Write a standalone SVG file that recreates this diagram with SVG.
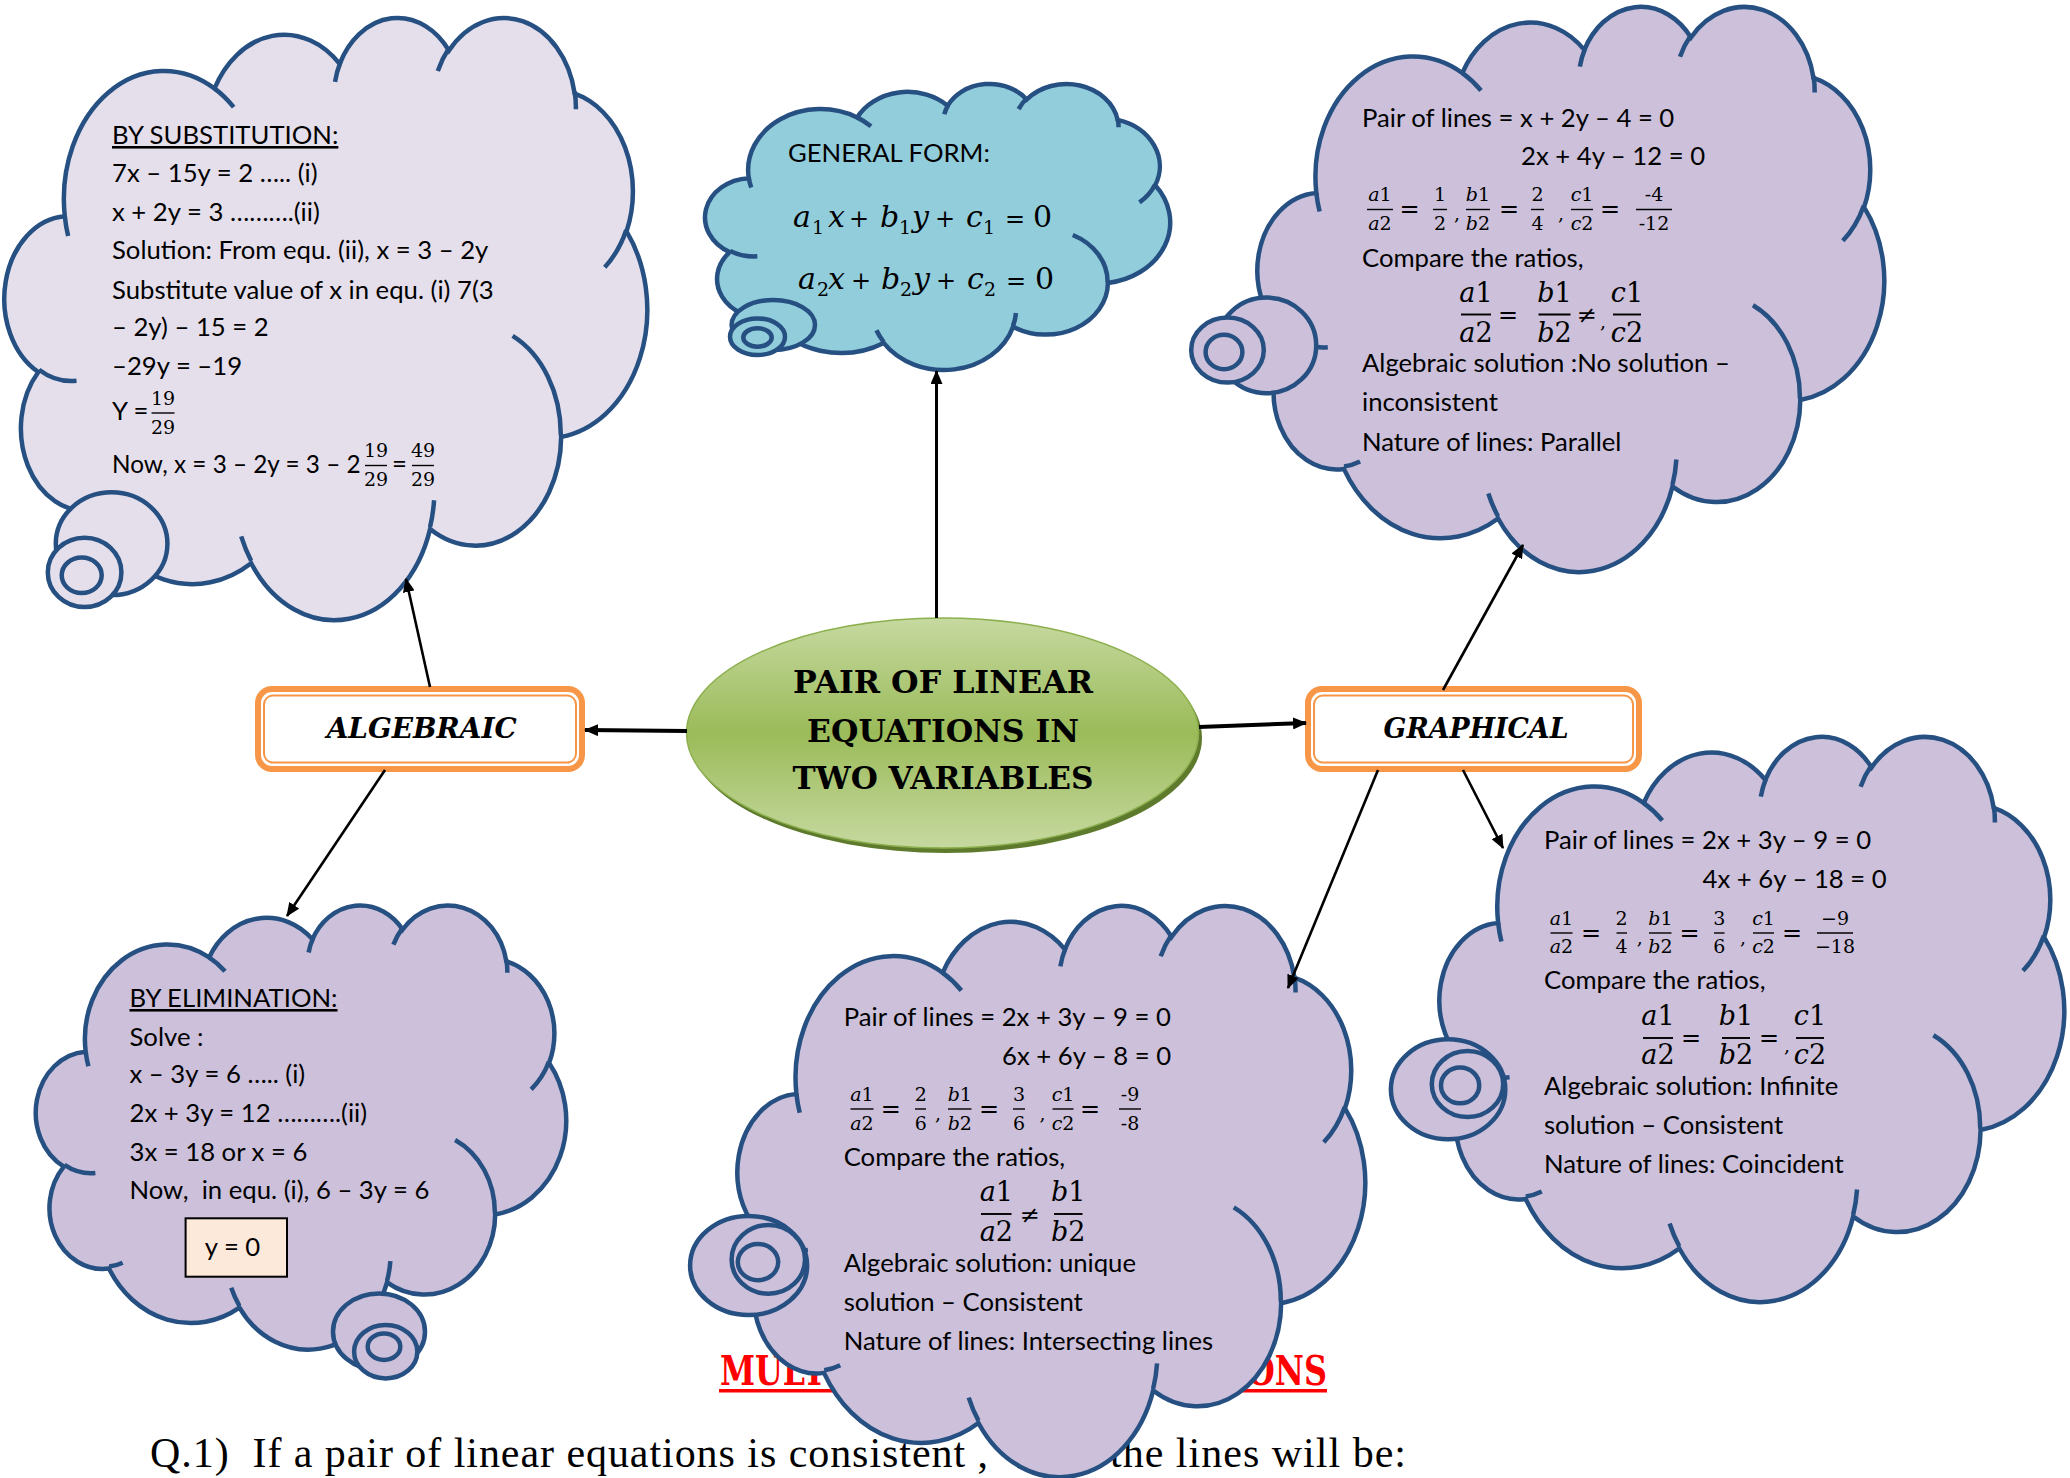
<svg xmlns="http://www.w3.org/2000/svg" xmlns:xlink="http://www.w3.org/1999/xlink" width="2070" height="1478" viewBox="0 0 2070 1478">
<style>
.cl{fill:#CCC0DA;stroke:#264F82;stroke-width:4.5}
.cl1{fill:#E5DFEC}
.clb{fill:#92CDDC}
.ia{fill:none;stroke:#264F82;stroke-width:4.5}
.bub{fill:#CCC0DA;stroke:#264F82;stroke-width:4.5}
.tx{font-family:Lato,"Open Sans",sans-serif;font-size:25.7px;fill:#000}
.mf{font-family:"DejaVu Serif",serif;font-size:19px;text-anchor:middle;fill:#000}
.mb{font-family:"DejaVu Serif",serif;font-size:27px;text-anchor:middle;fill:#000}
.op{font-family:"DejaVu Serif",serif;font-size:24px;text-anchor:middle;fill:#000}
.mg{font-family:"DejaVu Serif",serif;font-size:30px;fill:#000}
.sb{font-size:19px}
.so{font-size:24px}
.i{font-style:italic}
.fb{stroke:#000;stroke-width:1.4}
.fbb{stroke:#000;stroke-width:1.9}
.ob{fill:#fff;stroke:#F79646;stroke-width:6}
.oi{fill:none;stroke:#F79646;stroke-width:2}
.hd{font-family:"DejaVu Serif",serif;font-weight:bold;font-style:italic;font-size:28px;text-anchor:middle;fill:#000}
.ct{font-family:"DejaVu Serif",serif;font-weight:bold;font-size:32px;text-anchor:middle;fill:#000}
.cn{stroke:#000;fill:none}
</style>
<defs>
<path id="cb" vector-effect="non-scaling-stroke" d="M3900 14370 A6753 9190 0 0 1 14005 5202 A5333 7267 0 0 1 22457 3431 A4365 5945 0 0 1 29834 2479 A4857 6595 0 0 1 38319 5575 A5333 7273 0 0 1 41819 15459 A6775 9220 0 0 1 37406 30202 A5785 7867 0 0 1 28558 36813 A6752 9215 0 0 1 16483 39266 A7720 10543 0 0 1 5806 35472 A4360 5918 0 0 1 2115 25550 A4345 5945 0 0 1 3900 14370 Z"/>
<path id="ca" vector-effect="non-scaling-stroke" d="M4693 26177 A4345 5945 0 0 1 2160 25380 M6928 34899 A4360 5918 0 0 1 5819 35280 M16478 39090 A6752 9215 0 0 1 15809 37348 M28827 34751 A6752 9215 0 0 1 28561 36659 M34129 22954 A5785 7867 0 0 1 37380 30089 M41798 15354 A5333 7273 0 0 1 40349 18031 M38324 5426 A4857 6595 0 0 1 38400 6690 M29078 3952 A4857 6595 0 0 1 29820 2339 M22141 4720 A4365 5945 0 0 1 22500 3330 M14000 5192 A6753 9190 0 0 1 15301 6542 M4127 15789 A6753 9190 0 0 1 3900 14370"/>
<linearGradient id="gg" x1="0" y1="0" x2="0" y2="1">
<stop offset="0" stop-color="#C6D9A0"/>
<stop offset="0.5" stop-color="#9BBB59"/>
<stop offset="1" stop-color="#C6D9A0"/>
</linearGradient>
<marker id="ah" viewBox="0 0 14 12" refX="13" refY="6" markerWidth="14" markerHeight="12" markerUnits="userSpaceOnUse" orient="auto">
<path d="M0 0 L14 6 L0 12 Z" fill="#000"/>
</marker>
</defs>

<g id="background-text">
<text x="720" y="1385" font-family="DejaVu Serif,serif" font-weight="bold" font-size="41" fill="#FF0000" textLength="106" lengthAdjust="spacingAndGlyphs">MULT</text>
<text x="1247" y="1385" font-family="DejaVu Serif,serif" font-weight="bold" font-size="41" fill="#FF0000" textLength="80" lengthAdjust="spacingAndGlyphs">ONS</text>
<rect x="719" y="1389" width="608" height="3.5" fill="#FF0000"/>
<text x="150" y="1467" font-family="Liberation Serif,serif" font-size="42" fill="#000" textLength="838">Q.1)&#160; If a pair of linear equations is consistent ,</text>
<text x="1110" y="1467" font-family="Liberation Serif,serif" font-size="42" fill="#000" textLength="296">the lines will be:</text>
</g>

<g id="node-center">
<ellipse cx="946" cy="738" rx="256" ry="115" fill="#5E7A2C"/>
<ellipse cx="942.5" cy="733" rx="256" ry="115" fill="url(#gg)" stroke="#8DB04F" stroke-width="1.5"/>
<text class="ct" x="943" y="693" textLength="300" lengthAdjust="spacingAndGlyphs">PAIR OF LINEAR</text>
<text class="ct" x="943" y="742" textLength="272" lengthAdjust="spacingAndGlyphs">EQUATIONS IN</text>
<text class="ct" x="943" y="789" textLength="301" lengthAdjust="spacingAndGlyphs">TWO VARIABLES</text>
</g>

<g id="node-algebraic">
<rect class="ob" x="258" y="689" width="324" height="80" rx="14"/>
<rect class="oi" x="264" y="695.5" width="312" height="67" rx="9"/>
<text class="hd" x="421.7" y="738" textLength="190" lengthAdjust="spacingAndGlyphs">ALGEBRAIC</text>
</g>

<g id="node-graphical">
<rect class="ob" x="1308" y="689" width="331" height="80" rx="14"/>
<rect class="oi" x="1314" y="695.5" width="319" height="67" rx="9"/>
<text class="hd" x="1476" y="738" textLength="185" lengthAdjust="spacingAndGlyphs">GRAPHICAL</text>
</g>

<g id="node-substitution">
<use href="#cb" class="cl cl1" transform="translate(7 16) scale(0.0148148 0.0139352)"/>
<use href="#ca" class="ia" transform="translate(7 16) scale(0.0148148 0.0139352)"/>
<ellipse class="bub" style="fill:#E5DFEC" cx="111.6" cy="543.7" rx="55.8" ry="51.4"/>
<ellipse class="bub" style="fill:#E5DFEC" cx="84.6" cy="572.4" rx="36.8" ry="34.6"/>
<ellipse class="bub" style="fill:#E5DFEC" cx="81.7" cy="575.3" rx="20" ry="17.8"/>
<text class="tx" x="112" y="144" text-decoration="underline">BY SUBSTITUTION:</text>
<text class="tx" x="112" y="182">7x – 15y = 2 ….. (i)</text>
<text class="tx" x="112" y="221">x + 2y = 3 ……….(ii)</text>
<text class="tx" x="112" y="259">Solution: From equ. (ii), x = 3 – 2y</text>
<text class="tx" x="112" y="298.5">Substitute value of x in equ. (i) 7(3</text>
<text class="tx" x="112" y="336">– 2y) – 15 = 2</text>
<text class="tx" x="112" y="375">–29y = –19</text>
<text class="tx" x="112" y="420">Y =</text>
<text class="mf" x="163" y="405">19</text>
<line class="fb" x1="151.5" y1="413" x2="174.5" y2="413"/>
<text class="mf" x="163" y="434">29</text>
<text class="tx" x="112" y="472.5" style="font-size:24.3px">Now, x = 3 – 2y = 3 – 2</text>
<text class="mf" x="376" y="456.5">19</text>
<line class="fb" x1="365" y1="465.5" x2="387" y2="465.5"/>
<text class="mf" x="376" y="486">29</text>
<text class="tx" x="392" y="472.5">=</text>
<text class="mf" x="423" y="456.5">49</text>
<line class="fb" x1="412" y1="465.5" x2="434" y2="465.5"/>
<text class="mf" x="423" y="486">29</text>
</g>

<g id="node-general-form">
<use href="#cb" class="cl clb" transform="translate(707 83) scale(0.0107176 0.0066204)"/>
<use href="#ca" class="ia" transform="translate(707 83) scale(0.0107176 0.0066204)"/>
<ellipse class="bub" style="fill:#92CDDC" cx="773.3" cy="325" rx="41.7" ry="25"/>
<ellipse class="bub" style="fill:#92CDDC" cx="757.5" cy="336.7" rx="27.5" ry="18.3"/>
<ellipse class="bub" style="fill:#92CDDC" cx="757.5" cy="337.5" rx="14.2" ry="9.2"/>
<text class="tx" x="788" y="162">GENERAL FORM:</text>
<text class="mg" y="227"><tspan class="i" x="793">a</tspan><tspan class="sb" x="812" dy="7">1</tspan><tspan class="i" x="828" dy="-7">x</tspan><tspan class="so" x="849">+</tspan><tspan class="i" x="880">b</tspan><tspan class="sb" x="899" dy="7">1</tspan><tspan class="i" x="912" dy="-7">y</tspan><tspan class="so" x="935">+</tspan><tspan class="i" x="966">c</tspan><tspan class="sb" x="983" dy="7">1</tspan><tspan class="so" x="1005" dy="-7">=</tspan><tspan x="1033">0</tspan></text>
<text class="mg" y="289"><tspan class="i" x="798">a</tspan><tspan class="sb" x="817" dy="7">2</tspan><tspan class="i" x="828" dy="-7">x</tspan><tspan class="so" x="851">+</tspan><tspan class="i" x="881">b</tspan><tspan class="sb" x="900" dy="7">2</tspan><tspan class="i" x="913" dy="-7">y</tspan><tspan class="so" x="936">+</tspan><tspan class="i" x="967">c</tspan><tspan class="sb" x="984" dy="7">2</tspan><tspan class="so" x="1006" dy="-7">=</tspan><tspan x="1035">0</tspan></text>
</g>

<g id="node-parallel">
<use href="#cb" class="cl" transform="translate(1260 5) scale(0.0144444 0.0130787)"/>
<use href="#ca" class="ia" transform="translate(1260 5) scale(0.0144444 0.0130787)"/>
<ellipse class="bub" cx="1266.5" cy="345.4" rx="49.7" ry="47.8"/>
<ellipse class="bub" cx="1227.5" cy="350.1" rx="36.3" ry="32.5"/>
<ellipse class="bub" cx="1224" cy="352" rx="18.4" ry="17.2"/>
<text class="tx" x="1362" y="127">Pair of lines = x + 2y – 4 = 0</text>
<text class="tx" x="1521" y="165">2x + 4y – 12 = 0</text>
<text class="mf" x="1380" y="201"><tspan class="i">a</tspan>1</text><line class="fb" x1="1367" y1="209.5" x2="1393" y2="209.5"/><text class="mf" x="1380" y="230"><tspan class="i">a</tspan>2</text>
<text class="op" x="1409.5" y="217">=</text>
<text class="mf" x="1440" y="201">1</text><line class="fb" x1="1433" y1="209.5" x2="1447" y2="209.5"/><text class="mf" x="1440" y="230">2</text>
<text class="mf" x="1457" y="220">,</text>
<text class="mf" x="1478" y="201"><tspan class="i">b</tspan>1</text><line class="fb" x1="1466" y1="209.5" x2="1490" y2="209.5"/><text class="mf" x="1478" y="230"><tspan class="i">b</tspan>2</text>
<text class="op" x="1509" y="217">=</text>
<text class="mf" x="1537.5" y="201">2</text><line class="fb" x1="1531" y1="209.5" x2="1544" y2="209.5"/><text class="mf" x="1537.5" y="230">4</text>
<text class="mf" x="1561" y="220">,</text>
<text class="mf" x="1582" y="201"><tspan class="i">c</tspan>1</text><line class="fb" x1="1571" y1="209.5" x2="1593" y2="209.5"/><text class="mf" x="1582" y="230"><tspan class="i">c</tspan>2</text>
<text class="op" x="1610" y="217">=</text>
<text class="mf" x="1654" y="201">-4</text><line class="fb" x1="1636" y1="209.5" x2="1672" y2="209.5"/><text class="mf" x="1654" y="230">-12</text>
<text class="tx" x="1362" y="267">Compare the ratios,</text>
<text class="mb" x="1476" y="302"><tspan class="i">a</tspan>1</text><line class="fbb" x1="1461" y1="314.5" x2="1491" y2="314.5"/><text class="mb" x="1476" y="342"><tspan class="i">a</tspan>2</text>
<text class="op" x="1508" y="323">=</text>
<text class="mb" x="1554.5" y="302"><tspan class="i">b</tspan>1</text><line class="fbb" x1="1538.5" y1="314.5" x2="1570.5" y2="314.5"/><text class="mb" x="1554.5" y="342"><tspan class="i">b</tspan>2</text>
<text class="op" x="1586.5" y="323">≠</text>
<text class="mf" x="1603" y="328">,</text>
<text class="mb" x="1627" y="302"><tspan class="i">c</tspan>1</text><line class="fbb" x1="1613" y1="314.5" x2="1641" y2="314.5"/><text class="mb" x="1627" y="342"><tspan class="i">c</tspan>2</text>
<text class="tx" x="1362" y="372">Algebraic solution :No solution –</text>
<text class="tx" x="1362" y="411">inconsistent</text>
<text class="tx" x="1362" y="451">Nature of lines: Parallel</text>
</g>

<g id="node-elimination">
<use href="#cb" class="cl" transform="translate(38 904) scale(0.0122222 0.0102778)"/>
<use href="#ca" class="ia" transform="translate(38 904) scale(0.0122222 0.0102778)"/>
<ellipse class="bub" cx="379" cy="1331.7" rx="46" ry="38.3"/>
<ellipse class="bub" cx="385.7" cy="1351.7" rx="31.6" ry="26.7"/>
<ellipse class="bub" cx="384" cy="1346.7" rx="16.3" ry="13.3"/>
<text class="tx" x="129.5" y="1007" text-decoration="underline">BY ELIMINATION:</text>
<text class="tx" x="129.5" y="1045.7">Solve :</text>
<text class="tx" x="129.5" y="1083.3">x – 3y = 6 ….. (i)</text>
<text class="tx" x="129.5" y="1121.7">2x + 3y = 12 ……….(ii)</text>
<text class="tx" x="129.5" y="1160.7">3x = 18 or x = 6</text>
<text class="tx" x="129.5" y="1199.3">Now,&#160; in equ. (i), 6 – 3y = 6</text>
<rect x="185.6" y="1218.3" width="101.4" height="58.4" fill="#FDE9D9" stroke="#000" stroke-width="2"/>
<text class="tx" x="204.7" y="1256">y = 0</text>
</g>

<g id="node-intersecting">
<use href="#cb" class="cl" transform="translate(740 904) scale(0.0144676 0.0132176)"/>
<use href="#ca" class="ia" transform="translate(740 904) scale(0.0144676 0.0132176)"/>
<ellipse class="bub" cx="748.6" cy="1265.5" rx="58.5" ry="49.6"/>
<ellipse class="bub" cx="768.3" cy="1259.4" rx="36.7" ry="34.3"/>
<ellipse class="bub" cx="758" cy="1262.1" rx="20.2" ry="18.1"/>
<text class="tx" x="843.7" y="1026">Pair of lines = 2x + 3y – 9 = 0</text>
<text class="tx" x="1002" y="1065">6x + 6y – 8 = 0</text>
<text class="mf" x="862" y="1100.5"><tspan class="i">a</tspan>1</text><line class="fb" x1="850.5" y1="1109" x2="873.5" y2="1109"/><text class="mf" x="862" y="1130"><tspan class="i">a</tspan>2</text>
<text class="op" x="890.7" y="1116.5">=</text>
<text class="mf" x="920.7" y="1100.5">2</text><line class="fb" x1="915" y1="1109" x2="926" y2="1109"/><text class="mf" x="920.7" y="1130">6</text>
<text class="mf" x="938" y="1119.5">,</text>
<text class="mf" x="959.8" y="1100.5"><tspan class="i">b</tspan>1</text><line class="fb" x1="948" y1="1109" x2="971.5" y2="1109"/><text class="mf" x="959.8" y="1130"><tspan class="i">b</tspan>2</text>
<text class="op" x="989" y="1116.5">=</text>
<text class="mf" x="1019" y="1100.5">3</text><line class="fb" x1="1013" y1="1109" x2="1025" y2="1109"/><text class="mf" x="1019" y="1130">6</text>
<text class="mf" x="1042.5" y="1119.5">,</text>
<text class="mf" x="1063" y="1100.5"><tspan class="i">c</tspan>1</text><line class="fb" x1="1052.5" y1="1109" x2="1073.5" y2="1109"/><text class="mf" x="1063" y="1130"><tspan class="i">c</tspan>2</text>
<text class="op" x="1090" y="1116.5">=</text>
<text class="mf" x="1130" y="1100.5">-9</text><line class="fb" x1="1119" y1="1109" x2="1141" y2="1109"/><text class="mf" x="1130" y="1130">-8</text>
<text class="tx" x="843.7" y="1166">Compare the ratios,</text>
<text class="mb" x="996.3" y="1200.5"><tspan class="i">a</tspan>1</text><line class="fbb" x1="981" y1="1214" x2="1011.5" y2="1214"/><text class="mb" x="996.3" y="1240.5"><tspan class="i">a</tspan>2</text>
<text class="op" x="1029.6" y="1222.5">≠</text>
<text class="mb" x="1068.2" y="1200.5"><tspan class="i">b</tspan>1</text><line class="fbb" x1="1054" y1="1214" x2="1082.5" y2="1214"/><text class="mb" x="1068.2" y="1240.5"><tspan class="i">b</tspan>2</text>
<text class="tx" x="843.7" y="1272">Algebraic solution: unique</text>
<text class="tx" x="843.7" y="1311">solution – Consistent</text>
<text class="tx" x="843.7" y="1350.3">Nature of lines: Intersecting lines</text>
</g>

<g id="node-coincident">
<use href="#cb" class="cl" transform="translate(1442 735) scale(0.0143981 0.0130787)"/>
<use href="#ca" class="ia" transform="translate(1442 735) scale(0.0143981 0.0130787)"/>
<ellipse class="bub" cx="1448.1" cy="1089.3" rx="57.2" ry="50"/>
<ellipse class="bub" cx="1467.5" cy="1084.1" rx="35.7" ry="33"/>
<ellipse class="bub" cx="1460.1" cy="1085.4" rx="19.1" ry="17.9"/>
<text class="tx" x="1544" y="849">Pair of lines = 2x + 3y – 9 = 0</text>
<text class="tx" x="1702.6" y="888">4x + 6y – 18 = 0</text>
<text class="mf" x="1561.5" y="924.5"><tspan class="i">a</tspan>1</text><line class="fb" x1="1550.5" y1="933" x2="1572.5" y2="933"/><text class="mf" x="1561.5" y="953"><tspan class="i">a</tspan>2</text>
<text class="op" x="1591" y="940.5">=</text>
<text class="mf" x="1621.6" y="924.5">2</text><line class="fb" x1="1616.5" y1="933" x2="1627" y2="933"/><text class="mf" x="1621.6" y="953">4</text>
<text class="mf" x="1639.7" y="943.5">,</text>
<text class="mf" x="1660.4" y="924.5"><tspan class="i">b</tspan>1</text><line class="fb" x1="1649" y1="933" x2="1671.5" y2="933"/><text class="mf" x="1660.4" y="953"><tspan class="i">b</tspan>2</text>
<text class="op" x="1689.6" y="940.5">=</text>
<text class="mf" x="1719.3" y="924.5">3</text><line class="fb" x1="1714" y1="933" x2="1724.5" y2="933"/><text class="mf" x="1719.3" y="953">6</text>
<text class="mf" x="1743" y="943.5">,</text>
<text class="mf" x="1763.5" y="924.5"><tspan class="i">c</tspan>1</text><line class="fb" x1="1753" y1="933" x2="1774" y2="933"/><text class="mf" x="1763.5" y="953"><tspan class="i">c</tspan>2</text>
<text class="op" x="1792" y="940.5">=</text>
<text class="mf" x="1835" y="924.5">−9</text><line class="fb" x1="1817" y1="933" x2="1853" y2="933"/><text class="mf" x="1835" y="953">−18</text>
<text class="tx" x="1544" y="989">Compare the ratios,</text>
<text class="mb" x="1658" y="1024.6"><tspan class="i">a</tspan>1</text><line class="fbb" x1="1643" y1="1038" x2="1673" y2="1038"/><text class="mb" x="1658" y="1064"><tspan class="i">a</tspan>2</text>
<text class="op" x="1691" y="1046">=</text>
<text class="mb" x="1736" y="1024.6"><tspan class="i">b</tspan>1</text><line class="fbb" x1="1722" y1="1038" x2="1750" y2="1038"/><text class="mb" x="1736" y="1064"><tspan class="i">b</tspan>2</text>
<text class="op" x="1769" y="1046">=</text>
<text class="mf" x="1787" y="1052">,</text>
<text class="mb" x="1810" y="1024.6"><tspan class="i">c</tspan>1</text><line class="fbb" x1="1796" y1="1038" x2="1824" y2="1038"/><text class="mb" x="1810" y="1064"><tspan class="i">c</tspan>2</text>
<text class="tx" x="1544" y="1095">Algebraic solution: Infinite</text>
<text class="tx" x="1544" y="1133.6">solution – Consistent</text>
<text class="tx" x="1544" y="1173">Nature of lines: Coincident</text>
</g>

<g id="connectors" class="cn">
<line x1="936.5" y1="618" x2="936.5" y2="371" stroke-width="3" marker-end="url(#ah)"/>
<line x1="687" y1="731" x2="585" y2="730" stroke-width="4" marker-end="url(#ah)"/>
<line x1="1199" y1="727" x2="1306" y2="723" stroke-width="4" marker-end="url(#ah)"/>
<line x1="430" y1="687" x2="406" y2="579" stroke-width="2.6" marker-end="url(#ah)"/>
<line x1="385" y1="770" x2="287" y2="916" stroke-width="2.6" marker-end="url(#ah)"/>
<line x1="1443" y1="690" x2="1523" y2="545" stroke-width="2.6" marker-end="url(#ah)"/>
<line x1="1378" y1="770" x2="1288" y2="988" stroke-width="2.6" marker-end="url(#ah)"/>
<line x1="1463" y1="770" x2="1503" y2="848" stroke-width="2.6" marker-end="url(#ah)"/>
</g>
</svg>
